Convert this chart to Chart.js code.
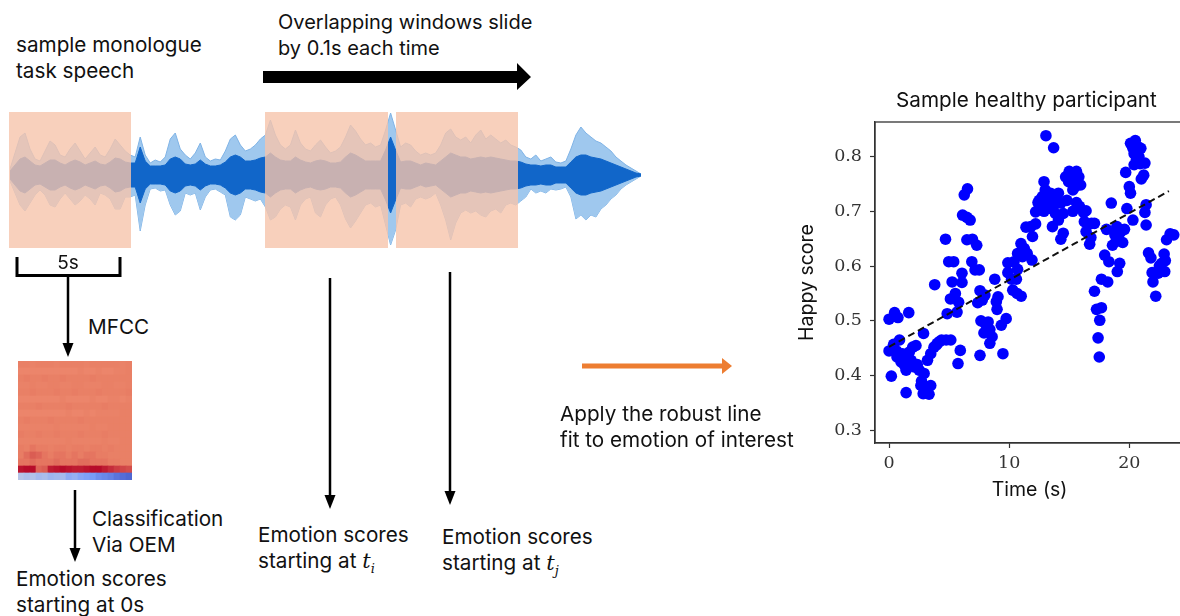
<!DOCTYPE html>
<html>
<head>
<meta charset="utf-8">
<script src="https://cdn.jsdelivr.net/npm/chart.js@4.4.1/dist/chart.umd.min.js"></script>
<style>
  body { margin:0; width:1180px; height:616px; overflow:hidden; background:#fff; position:relative;
         font-family: Inter, "Noto Sans", sans-serif; color:#111; }
  .txt { position:absolute; font-size:20.7px; line-height:26px; white-space:nowrap; }
  .win { position:absolute; top:112px; height:136px; background:rgba(246,196,171,0.8); }
  canvas { position:absolute; }
  svg { position:absolute; left:0; top:0; }
  .m { font-family:"DejaVu Serif"; font-style:italic; font-size:21px; }
  .sub { font-family:"DejaVu Serif"; font-style:italic; font-size:13px; position:relative; top:5px; }
</style>
</head>
<body>

<canvas id="wave" width="631" height="150" style="left:10px;top:100px"></canvas>
<div class="win" style="left:9px;width:122px"></div>
<div class="win" style="left:265px;width:123px"></div>
<div class="win" style="left:396px;width:122px"></div>

<canvas id="mfcc" width="114" height="119" style="left:18px;top:361px"></canvas>
<canvas id="scatter" width="400" height="430" style="left:790px;top:80px"></canvas>

<div class="txt" style="left:16px;top:32px">sample monologue<br>task speech</div>
<div class="txt" style="left:278px;top:9px;font-size:20px">Overlapping windows slide<br>by 0.1s each time</div>
<div class="txt" style="left:46px;top:250px;width:44px;text-align:center;font-size:19px">5s</div>
<div class="txt" style="left:88px;top:314px">MFCC</div>
<div class="txt" style="left:92px;top:506px">Classification<br>Via OEM</div>
<div class="txt" style="left:16px;top:566px">Emotion scores<br>starting at 0s</div>
<div class="txt" style="left:258px;top:522px">Emotion scores<br>starting at <span class="m">t</span><span class="sub">i</span></div>
<div class="txt" style="left:442px;top:524px">Emotion scores<br>starting at <span class="m">t</span><span class="sub">j</span></div>
<div class="txt" style="left:560px;top:401px">Apply the robust line<br>fit to emotion of interest</div>
<div class="txt" style="left:896px;top:87px">Sample healthy participant</div>

<svg width="1180" height="616">
  <polygon points="263,71 517,71 517,63 531,77 517,90 517,83 263,83" fill="#000"/>
  <path d="M17,257 V275.5 H120 V257" stroke="#000" stroke-width="3" fill="none"/>
  <line x1="68" y1="276" x2="68" y2="345" stroke="#000" stroke-width="2.5"/>
  <polygon points="62.5,343 73.5,343 68,357" fill="#000"/>
  <line x1="75" y1="490" x2="75" y2="550" stroke="#000" stroke-width="2.5"/>
  <polygon points="69.5,548 80.5,548 75,562" fill="#000"/>
  <line x1="330" y1="278" x2="330" y2="497" stroke="#000" stroke-width="2.5"/>
  <polygon points="324.5,495 335.5,495 330,509" fill="#000"/>
  <line x1="450" y1="272" x2="450" y2="493" stroke="#000" stroke-width="2.5"/>
  <polygon points="444.5,491 455.5,491 450,505" fill="#000"/>
  <line x1="582" y1="366" x2="724" y2="366" stroke="#ED7D31" stroke-width="5"/>
  <polygon points="722,358 732,366 722,374" fill="#ED7D31"/>
</svg>

<script>
// scatter: time (s) vs happy score
const timeSec = [0.0,0.46,0.74,0.0,0.38,0.87,0.19,0.66,1.0,0.3,0.62,1.12,
  1.64,1.42,1.28,1.42,1.69,1.97,2.24,1.83,2.1,2.51,2.92,2.87,2.65,3.06,2.84,3.33,3.47,1.2,2.35,2.7,
  3.2,3.47,3.74,4.02,4.37,4.75,5.14,3.8,4.7,4.97,5.38,5.25,5.11,5.52,5.79,4.84,5.66,5.93,5.74,6.07,6.07,4.2,3.95,
  6.26,6.53,6.12,6.48,6.75,6.48,6.94,7.3,6.89,7.16,7.51,7.57,7.38,7.76,7.98,7.65,8.03,8.25,7.9,8.39,8.58,8.39,7.57,
  8.8,9.07,8.93,8.99,9.48,9.34,9.75,9.89,9.89,10.2,10.4,10.7,10.6,10.3,10.66,11.0,10.7,11.1,11.26,10.98,11.5,11.9,11.4,11.8,12.2,11.94,
  12.2,12.4,12.76,12.9,13.0,13.25,13.44,13.7,14.1,12.6,12.9,13.06,13.7,13.7,13.85,13.6,14.1,14.5,14.5,14.3,14.8,14.7,15.0,15.4,15.6,15.36,14.95,15.3,15.8,15.95,15.6,15.85,15.3,
  12.5,13.1,13.5,14.3,15.2,15.5,
  16.2,16.4,16.26,16.86,17.1,16.4,16.8,16.7,17.1,17.27,17.68,17.54,17.4,17.5,17.68,18.2,17.95,18.3,18.1,18.5,18.8,
  18.6,18.9,19.0,19.2,18.96,19.3,19.45,19.6,19.7,20.0,20.1,19.8,20.3,20.1,20.5,20.3,20.7,20.96,20.6,20.9,20.4,21.3,21.2,21.0,21.4,21.3,21.4,
  20.4,20.8,19.1,
  21.6,21.8,21.9,21.97,22.2,22.4,22.7,22.95,22.9,22.6,23.1,23.4,23.7,22.5,23.0];
const happyScore = [0.503,0.515,0.506,0.445,0.457,0.465,0.399,0.434,0.425,0.45,0.445,0.44,
  0.515,0.369,0.419,0.41,0.443,0.452,0.455,0.428,0.416,0.41,0.404,0.477,0.382,0.379,0.367,0.366,0.382,0.43,0.42,0.39,
  0.428,0.44,0.452,0.459,0.465,0.465,0.465,0.566,0.649,0.608,0.608,0.571,0.54,0.55,0.534,0.513,0.516,0.446,0.422,0.587,0.57,0.462,0.456,
  0.73,0.741,0.693,0.689,0.684,0.648,0.649,0.638,0.608,0.593,0.593,0.555,0.533,0.538,0.547,0.5,0.494,0.498,0.478,0.484,0.471,0.459,0.437,
  0.576,0.544,0.535,0.521,0.44,0.492,0.504,0.588,0.606,0.576,0.608,0.594,0.576,0.556,0.55,0.545,0.623,0.617,0.632,0.641,0.623,0.611,0.671,0.672,0.677,0.654,
  0.699,0.716,0.727,0.754,0.739,0.727,0.733,0.724,0.733,0.709,0.7,0.838,0.816,0.71,0.696,0.672,0.684,0.696,0.66,0.649,0.72,0.763,0.773,0.77,0.773,0.757,0.754,0.739,0.763,0.748,0.716,0.709,0.7,
  0.72,0.715,0.705,0.715,0.765,0.745,
  0.698,0.701,0.681,0.678,0.678,0.663,0.652,0.64,0.554,0.521,0.524,0.501,0.469,0.434,0.576,0.571,0.62,0.608,0.667,0.715,0.657,
  0.638,0.645,0.59,0.605,0.672,0.663,0.643,0.667,0.771,0.745,0.733,0.705,0.684,0.824,0.829,0.815,0.818,0.815,0.795,0.787,0.785,0.788,0.766,0.759,0.712,0.698,0.675,
  0.805,0.8,0.655,
  0.624,0.615,0.588,0.571,0.545,0.587,0.605,0.59,0.622,0.602,0.648,0.659,0.657,0.6,0.61];

// robust line fit end points
const fitX = [0, 23.3];
const fitY = [0.4525, 0.737];

const xTicks = [0, 10, 20];
const yTicks = [0.3, 0.4, 0.5, 0.6, 0.7, 0.8];

// waveform (px amplitude) sampled every 5px along the clip
const waveUp = [6,22,38,42,26,16,14,24,34,30,20,18,26,32,24,16,22,28,20,18,26,36,30,24,20,
  18,38,20,12,15,13,18,36,42,26,20,16,22,32,18,14,16,15,24,36,40,30,24,26,30,36,
  40,55,40,30,26,30,45,32,26,24,30,35,28,22,24,28,38,50,44,36,30,32,28,30,45,62,45,
  28,32,30,24,20,22,20,22,30,42,46,38,35,38,32,40,45,36,40,36,32,35,30,28,
  25,18,16,20,14,16,18,13,12,14,26,40,48,42,38,34,32,28,24,18,14,10,7,4,1];
const waveDown = [6,18,30,36,28,20,15,20,30,32,24,18,24,30,26,20,24,30,18,20,24,34,34,22,22,
  20,56,30,14,13,16,15,30,40,36,18,20,18,35,22,15,14,17,20,42,45,40,22,24,26,24,
  32,45,42,34,30,32,45,30,24,22,38,42,30,24,22,30,44,53,46,38,30,28,32,30,50,70,55,
  30,28,32,24,22,24,22,18,30,45,65,48,38,35,38,36,40,42,36,34,38,30,28,30,
  26,22,14,18,16,18,14,15,14,12,22,44,40,45,40,42,34,30,24,20,14,10,7,4,1];
const waveCore = [4,10,16,18,14,10,9,12,15,15,12,10,13,15,13,10,12,14,11,10,13,17,16,13,12,
  12,28,14,9,9,9,10,16,18,16,11,10,11,15,11,9,9,10,13,18,20,18,14,14,15,17,
  18,22,18,15,14,14,18,15,13,12,14,15,14,12,12,13,18,22,20,17,14,14,14,14,25,38,25,
  13,14,14,12,10,12,11,10,14,18,22,20,18,18,16,17,18,17,18,17,16,15,14,14,
  13,11,10,10,9,10,10,8,8,8,13,18,20,20,18,17,16,14,12,10,8,6,4,2,1];

// MFCC heat map, rows top to bottom, values in % of the colour scale
const mfccRows = [
  [84,84,83,84,84,84,83,84,84,84,84,83,84,84,84,84,84,83,84],
  [82,82,82,82,82,82,82,82,82,82,83,82,82,83,82,82,83,83,84],
  [84,85,84,84,85,84,84,85,84,84,84,84,85,84,84,84,84,84,84],
  [83,83,84,83,83,84,84,83,83,84,84,83,83,83,84,84,83,83,84],
  [84,84,85,84,84,84,85,84,84,85,84,84,84,85,84,84,84,84,85],
  [82,82,82,82,82,82,82,83,82,82,82,82,83,82,82,83,83,82,83],
  [84,84,84,85,84,84,84,84,85,84,84,84,84,84,85,84,84,84,84],
  [82,82,82,82,82,82,82,82,83,82,82,83,82,83,83,83,83,84,84],
  [84,85,84,84,84,85,84,84,84,84,85,84,84,84,84,84,84,84,84],
  [83,83,83,83,83,83,84,83,83,83,83,83,84,83,83,84,84,84,84],
  [85,84,84,85,84,84,85,84,84,84,85,84,84,84,85,84,84,84,84],
  [83,83,83,83,83,83,83,83,84,83,83,83,83,83,84,83,83,84,84],
  [85,84,86,85,85,84,85,85,84,85,85,84,85,85,84,85,84,84,84],
  [85,87,89,88,86,85,86,86,85,86,85,86,86,85,85,84,84,84,84],
  [86,86,87,86,86,86,87,86,86,86,87,87,86,86,86,85,85,84,84],
  [98,99,99,88,89,97,98,99,98,97,97,98,99,99,97,95,93,92,91],
  [40,38,39,36,37,34,35,36,30,32,28,26,24,20,18,16,12,10,8]
];

Chart.defaults.font.family = 'Inter, "Noto Sans", sans-serif';

// coolwarm-like colour ramp
const ramp = [[0,59,76,192],[0.25,123,159,249],[0.5,221,221,221],[0.75,244,152,122],[0.85,232,125,100],[1,180,4,38]];
function coolwarm(v) {
  for (let i = 1; i < ramp.length; i++) {
    if (v <= ramp[i][0]) {
      const a = ramp[i-1], b = ramp[i];
      const t = (v - a[0]) / (b[0] - a[0]);
      const c = [1,2,3].map(k => Math.round(a[k] + (b[k]-a[k]) * t));
      return `rgb(${c[0]},${c[1]},${c[2]})`;
    }
  }
  return 'rgb(180,4,38)';
}

// waveform: light outer envelope and dense core, both as filled bands
const waveLabels = waveUp.map((_, i) => i);
new Chart(document.getElementById('wave'), {
  type: 'line',
  data: {
    labels: waveLabels,
    datasets: [
      { data: waveCore, borderColor: '#1166c9', backgroundColor: '#1166c9', borderWidth: 1, fill: '+1' },
      { data: waveCore.map(v => -v), borderColor: '#1166c9', borderWidth: 1, fill: false },
      { data: waveUp, borderColor: '#7fb3e6', backgroundColor: '#9fc8ee', borderWidth: 1, fill: '+1' },
      { data: waveDown.map(v => -v), borderColor: '#7fb3e6', borderWidth: 1, fill: false }
    ]
  },
  options: {
    responsive: false, animation: false,
    layout: { padding: 0 },
    elements: { line: { tension: 0 }, point: { radius: 0 } },
    plugins: { legend: { display: false }, tooltip: { enabled: false } },
    scales: {
      x: { display: false, offset: false },
      y: { display: false, min: -75, max: 75 }
    }
  }
});

// MFCC
const mfccCols = mfccRows[0].map((_, i) => i);
new Chart(document.getElementById('mfcc'), {
  type: 'bar',
  data: {
    labels: mfccCols,
    datasets: mfccRows.slice().reverse().map(row => ({
      data: row.map(() => 1),
      backgroundColor: row.map(v => coolwarm(v / 100)),
      borderWidth: 0,
      barPercentage: 1,
      categoryPercentage: 1
    }))
  },
  options: {
    responsive: false, animation: false,
    layout: { padding: 0 },
    plugins: { legend: { display: false }, tooltip: { enabled: false } },
    scales: {
      x: { display: false, stacked: true },
      y: { display: false, stacked: true, min: 0, max: mfccRows.length }
    }
  }
});

// frame around the plot area
const frame = {
  id: 'frame',
  beforeDatasetsDraw(chart) {
    const a = chart.chartArea, c = chart.ctx;
    c.save();
    c.strokeStyle = '#333';
    c.lineWidth = 1.3;
    c.strokeRect(a.left, a.top, a.right - a.left, a.bottom - a.top);
    c.restore();
  }
};

const axisTicks = {
  grid: { drawOnChartArea: false, tickLength: 5, color: '#333', tickWidth: 1.2 },
  border: { color: '#333', width: 1.3 }
};

new Chart(document.getElementById('scatter'), {
  type: 'scatter',
  data: {
    datasets: [
      { type: 'line', data: fitX.map((x, i) => ({ x: x, y: fitY[i] })), borderColor: '#111', borderWidth: 2,
        borderDash: [7, 4], pointRadius: 0, fill: false },
      { data: timeSec.map((t, i) => ({ x: t, y: happyScore[i] })), backgroundColor: '#0000ff',
        borderWidth: 0, pointRadius: 5.8 }
    ]
  },
  options: {
    responsive: false, animation: false,
    layout: { padding: { top: 42, right: 1, left: 0, bottom: 0 } },
    plugins: { legend: { display: false }, tooltip: { enabled: false } },
    scales: {
      x: {
        type: 'linear', min: -1.17, max: 24.57,
        afterFit: s => { s.height = 67; },
        afterBuildTicks: s => { s.ticks = xTicks.map(v => ({ value: v })); },
        ticks: { font: { family: 'DejaVu Serif', size: 17.5 }, color: '#333', padding: 5, maxRotation: 0,
                 callback: v => String(v) },
        title: { display: true, text: 'Time (s)', font: { size: 19.5 }, color: '#111', padding: { top: 0, bottom: 8 } },
        ...axisTicks
      },
      y: {
        min: 0.277, max: 0.863,
        afterFit: s => { s.width = 85; },
        afterBuildTicks: s => { s.ticks = yTicks.map(v => ({ value: v })); },
        ticks: { font: { family: 'DejaVu Serif', size: 17.5 }, color: '#333', padding: 8,
                 callback: v => v.toFixed(1) },
        title: { display: true, text: 'Happy score', font: { size: 19.5 }, color: '#111', padding: { top: 5, bottom: 0 } },
        ...axisTicks
      }
    }
  },
  plugins: [frame]
});
</script>
</body>
</html>
